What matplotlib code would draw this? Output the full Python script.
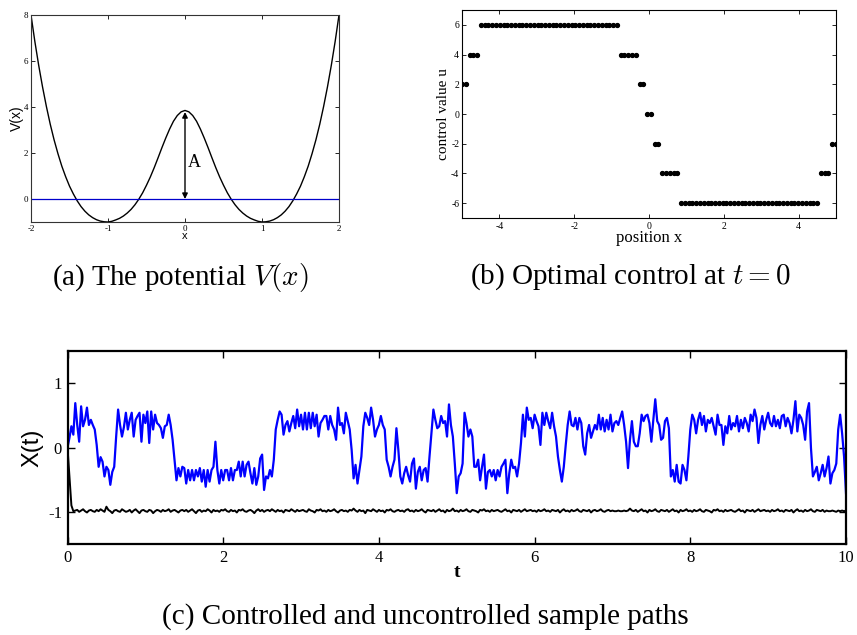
import numpy as np
import matplotlib
matplotlib.use('Agg')
import matplotlib.pyplot as plt

plt.rcParams['font.family'] = ['Liberation Serif', 'DejaVu Serif']
plt.rcParams['mathtext.fontset'] = 'cm'
plt.rcParams['axes.unicode_minus'] = False

# (a) potential V(x), every 0.05 in x
pot_x = np.linspace(-2, 2, 81)
pot_v = [8.00, 6.85, 5.81, 4.87, 4.02, 3.25, 2.57, 1.97, 1.43, 0.97,
         0.56, 0.22, -0.08, -0.33, -0.53, -0.69, -0.81, -0.90, -0.96, -0.99,
         -1.00, -0.97, -0.91, -0.84, -0.74, -0.61, -0.45, -0.25, -0.01, 0.27,
         0.60, 0.96, 1.36, 1.79, 2.23, 2.65, 3.04, 3.38, 3.63, 3.79,
         3.85,
         3.79, 3.63, 3.38, 3.04, 2.65, 2.23, 1.79, 1.36, 0.96, 0.60,
         0.27, -0.01, -0.25, -0.45, -0.61, -0.74, -0.84, -0.91, -0.97, -1.00,
         -0.99, -0.96, -0.90, -0.81, -0.69, -0.53, -0.33, -0.08, 0.22, 0.56,
         0.97, 1.43, 1.97, 2.57, 3.25, 4.02, 4.87, 5.81, 6.85, 8.00]
barrier_top = 3.78

# (b) optimal control on a 100 point grid
ctrl_x = np.linspace(-5, 5, 100)
ctrl_levels = [2, 4, 6, 4, 2, 0, -2, -4, -6, -4, -2]
ctrl_counts = [2, 3, 37, 5, 2, 2, 2, 5, 37, 3, 2]
ctrl_u = np.repeat(ctrl_levels, ctrl_counts)

# (c) sample paths, t = 0 ... 10 in steps of 0.025
path_t = np.linspace(0, 10, 401)
controlled = [
    0.00, 0.15, 0.33, 0.20, 0.69, 0.35, 0.09, 0.64, 0.33, 0.43, 0.62, 0.35, 0.43, 0.35, 0.28, 0.04, -0.30, -0.15, -0.22, -0.45,
    -0.30, -0.35, -0.58, -0.38, -0.30, 0.17, 0.59, 0.35, 0.17, 0.32, 0.54, 0.28, 0.43, 0.54, 0.17, 0.43, 0.49, 0.54, 0.09, 0.51,
    0.38, 0.56, 0.07, 0.56, 0.28, 0.51, 0.38, 0.35, 0.30, 0.15, 0.33, 0.35, 0.51, 0.35, 0.12, -0.19, -0.51, -0.32, -0.45, -0.30,
    -0.32, -0.56, -0.35, -0.51, -0.35, -0.51, -0.35, -0.45, -0.32, -0.53, -0.35, -0.61, -0.35, -0.53, -0.35, -0.30, 0.09, -0.35, -0.56, -0.35,
    -0.51, -0.35, -0.35, -0.51, -0.32, -0.51, -0.35, -0.35, -0.22, -0.45, -0.22, -0.45, -0.27, -0.22, -0.40, -0.56, -0.32, -0.58, -0.45, -0.17,
    -0.11, -0.66, -0.45, -0.48, -0.35, -0.45, -0.19, 0.28, 0.43, 0.56, 0.51, 0.20, 0.35, 0.41, 0.25, 0.38, 0.49, 0.30, 0.59, 0.33,
    0.51, 0.28, 0.54, 0.28, 0.54, 0.30, 0.54, 0.33, 0.51, 0.17, 0.38, 0.43, 0.49, 0.49, 0.28, 0.49, 0.35, 0.28, 0.12, 0.62,
    0.35, 0.38, 0.22, 0.54, 0.41, 0.28, -0.04, -0.48, -0.27, -0.56, -0.35, -0.14, 0.33, 0.54, 0.46, 0.35, 0.62, 0.43, 0.17, 0.28,
    0.35, 0.49, 0.35, 0.28, -0.19, -0.30, -0.45, -0.30, -0.19, 0.30, -0.04, -0.45, -0.56, -0.40, -0.30, -0.43, -0.53, -0.25, -0.17, -0.64,
    -0.38, -0.30, -0.51, -0.35, -0.32, -0.53, -0.14, 0.22, 0.59, 0.43, 0.30, 0.33, 0.49, 0.38, 0.41, 0.17, 0.67, 0.35, 0.17, -0.25,
    -0.71, -0.45, -0.40, -0.25, 0.54, 0.38, 0.17, 0.28, 0.17, -0.30, -0.30, -0.19, -0.51, -0.30, -0.11, -0.64, -0.38, -0.35, -0.45, -0.35,
    -0.51, -0.35, -0.45, -0.30, -0.25, -0.19, -0.71, -0.40, -0.19, -0.32, -0.30, -0.45, -0.25, 0.07, 0.51, 0.17, 0.62, 0.43, 0.46, 0.30,
    0.51, 0.41, 0.33, 0.04, 0.54, 0.35, 0.54, 0.41, 0.30, 0.54, 0.33, 0.17, -0.14, -0.35, -0.53, -0.30, 0.04, 0.35, 0.56, 0.35,
    0.33, 0.46, 0.28, 0.46, 0.38, 0.02, -0.11, 0.22, 0.35, 0.15, 0.25, 0.35, 0.28, 0.51, 0.28, 0.46, 0.25, 0.43, 0.28, 0.51,
    0.25, 0.38, 0.41, 0.35, 0.46, 0.56, 0.35, 0.09, -0.32, 0.12, 0.41, 0.09, 0.02, 0.02, 0.22, 0.51, 0.41, 0.49, 0.51, 0.38,
    0.09, 0.43, 0.75, 0.41, 0.35, 0.12, 0.15, 0.41, 0.46, 0.30, -0.45, -0.35, -0.53, -0.27, -0.53, -0.56, -0.27, -0.35, -0.51, -0.14,
    0.28, 0.51, 0.43, 0.22, 0.43, 0.54, 0.35, 0.49, 0.25, 0.43, 0.38, 0.46, 0.33, 0.20, 0.51, 0.35, 0.35, 0.04, 0.33, 0.22,
    0.49, 0.28, 0.38, 0.33, 0.49, 0.25, 0.43, 0.30, 0.46, 0.38, 0.25, 0.51, 0.41, 0.59, 0.46, 0.07, 0.35, 0.49, 0.28, 0.43,
    0.54, 0.38, 0.33, 0.49, 0.33, 0.43, 0.30, 0.49, 0.51, 0.33, 0.46, 0.38, 0.22, 0.43, 0.72, 0.25, 0.51, 0.46, 0.35, 0.12,
    0.56, 0.69, -0.01, -0.45, -0.38, -0.30, -0.51, -0.40, -0.27, -0.45, -0.32, -0.14, -0.56, -0.40, -0.35, -0.25, 0.28, 0.51, 0.22, -0.14,
    -0.71]
uncontrolled = [
    0.00, -0.45, -0.90, -0.99, -0.98, -0.97, -1.00, -0.98, -0.96, -0.99, -1.01, -0.98, -0.97, -0.99, -1.00, -0.97, -0.99, -0.96, -0.98, -1.00,
    -0.92, -0.97, -0.99, -1.02, -0.98, -0.97, -0.99, -1.00, -0.96, -0.98, -1.00, -0.99, -0.97, -1.01, -0.98, -0.96, -0.99, -1.02, -0.98, -0.97,
    -0.99, -1.00, -0.97, -0.98, -1.02, -0.99, -0.97, -0.98, -1.00, -0.97, -0.99, -0.98, -0.96, -1.00, -0.98, -0.97, -0.99, -1.01, -0.98, -0.97,
    -0.99, -0.97, -1.00, -0.98, -0.96, -0.99, -1.02, -0.98, -0.97, -1.00, -0.98, -0.99, -0.96, -0.98, -1.01, -0.97, -0.99, -0.98, -1.00, -0.97,
    -0.98, -0.96, -0.99, -1.00, -0.97, -0.99, -0.98, -1.01, -0.97, -0.98, -0.96, -0.99, -1.00, -0.98, -0.97, -0.99, -1.02, -0.98, -0.96, -0.99,
    -0.97, -1.00, -0.98, -0.97, -0.99, -0.96, -0.98, -1.00, -0.97, -0.99, -0.98, -1.01, -0.97, -0.98, -0.99, -0.96, -0.98, -1.00, -0.97, -0.99,
    -0.98, -0.97, -0.99, -1.00, -0.96, -0.98, -0.99, -1.01, -0.97, -0.98, -0.96, -0.99, -0.98, -1.00, -0.97, -0.99, -0.98, -0.96, -0.99, -1.01,
    -0.98, -0.97, -0.99, -0.98, -1.00, -0.97, -0.98, -0.95, -0.98, -1.00, -0.97, -0.99, -0.98, -1.02, -0.97, -0.98, -0.99, -0.96, -0.98, -1.00,
    -0.97, -0.99, -0.98, -1.01, -0.97, -0.98, -0.96, -0.99, -1.00, -0.98, -0.97, -0.99, -0.98, -1.00, -0.97, -0.96, -0.99, -0.98, -1.00, -0.97,
    -0.99, -0.98, -0.96, -0.99, -1.01, -0.97, -0.98, -0.99, -0.97, -1.00, -0.98, -0.96, -0.99, -0.98, -1.01, -0.97, -0.99, -0.98, -0.95, -0.99,
    -0.98, -1.00, -0.97, -0.99, -0.98, -0.96, -0.99, -1.00, -0.97, -0.98, -0.99, -1.01, -0.97, -0.98, -0.96, -0.99, -0.98, -1.00, -0.97, -0.99,
    -0.98, -0.97, -0.99, -1.00, -0.98, -0.96, -0.99, -0.98, -1.01, -0.97, -0.98, -0.99, -0.97, -1.00, -0.98, -0.96, -0.99, -0.98, -0.97, -0.99,
    -0.98, -1.00, -0.97, -0.99, -0.98, -0.96, -0.99, -0.98, -1.00, -0.97, -0.98, -0.99, -0.97, -1.01, -0.98, -0.96, -0.99, -0.98, -1.00, -0.97,
    -0.99, -0.98, -0.96, -0.99, -1.00, -0.97, -0.98, -0.99, -0.97, -1.01, -0.98, -0.97, -0.99, -0.98, -0.96, -0.99, -1.00, -0.98, -0.97, -0.99,
    -0.98, -0.99, -0.99, -0.98, -0.99, -0.99, -0.98, -0.99, -0.98, -0.95, -0.98, -0.99, -0.97, -1.00, -0.98, -0.96, -0.99, -0.98, -1.01, -0.97,
    -0.99, -0.98, -0.96, -0.99, -1.00, -0.97, -0.98, -0.99, -0.97, -1.00, -0.98, -0.96, -0.99, -0.98, -1.01, -0.97, -0.99, -0.98, -0.96, -0.99,
    -0.98, -1.00, -0.97, -0.99, -0.98, -0.96, -0.99, -1.00, -0.97, -0.98, -0.99, -1.01, -0.97, -0.98, -0.96, -0.99, -0.98, -1.00, -0.97, -0.99,
    -0.98, -0.97, -0.99, -1.00, -0.98, -0.96, -0.99, -0.98, -1.01, -0.97, -0.98, -0.99, -0.97, -1.00, -0.98, -0.96, -0.99, -0.98, -0.97, -0.99,
    -0.98, -1.00, -0.97, -0.99, -0.98, -0.96, -0.99, -0.98, -1.00, -0.97, -0.98, -0.99, -0.97, -1.01, -0.98, -0.96, -0.99, -0.98, -1.00, -0.97,
    -0.99, -0.98, -0.96, -0.99, -1.00, -0.97, -0.98, -0.99, -0.97, -1.00, -0.98, -0.99, -0.99, -0.98, -0.99, -1.00, -0.98, -0.99, -0.98, -0.99,
    -0.98]

fig = plt.figure(figsize=(8.57, 6.35), dpi=100)
W, H = 857.0, 635.0

def box(l, t, r, b):
    return [l / W, 1 - b / H, (r - l) / W, (b - t) / H]

# ---- (a) the potential
ax1 = fig.add_axes(box(31, 15, 339, 222))
ax1.plot(pot_x, pot_v, color='black', lw=1.0)
ax1.axhline(0, color='#0000cc', lw=0.9)
ax1.annotate('', xy=(0, barrier_top), xytext=(0, 0),
             arrowprops=dict(arrowstyle='<|-|>', color='black', lw=1.0,
                             mutation_scale=8, shrinkA=0, shrinkB=0))
ax1.text(0.04, 1.57, 'A', fontsize=13, ha='left', va='center')
ax1.set_xlim(-2, 2)
ax1.set_ylim(-1, 8)
ax1.set_xticks([-2, -1, 0, 1, 2])
ax1.set_yticks([0, 2, 4, 6, 8])
ax1.tick_params(direction='in', top=True, right=True, labelsize=6.5, length=3, width=0.6, pad=2)
ax1.set_xlabel('x', fontsize=8, family='Liberation Sans', labelpad=-1)
ax1.set_ylabel('V(x)', fontsize=10, family='Liberation Sans', labelpad=0)
for s in ax1.spines.values():
    s.set_linewidth(0.8)
    s.set_color('#333333')

# ---- (b) optimal control
ax2 = fig.add_axes(box(462, 10, 836, 218))
ax2.plot(ctrl_x, ctrl_u, 'o', color='black', ms=2.8)
ax2.set_xlim(-5, 5)
ax2.set_ylim(-7, 7)
ax2.set_xticks([-4, -2, 0, 2, 4])
ax2.set_yticks([-6, -4, -2, 0, 2, 4, 6])
ax2.tick_params(direction='in', top=True, right=True, labelsize=7, length=3, width=0.6, pad=2)
ax2.tick_params(axis='x', pad=3)
ax2.set_xlabel('position x', fontsize=12, labelpad=-1)
ax2.set_ylabel('control value u', fontsize=11, labelpad=1)
for s in ax2.spines.values():
    s.set_linewidth(0.8)

# ---- (c) sample paths
ax3 = fig.add_axes(box(67.5, 351, 846, 544))
ax3.plot(path_t, uncontrolled, color='black', lw=1.4)
ax3.plot(path_t, controlled, color='#0000ff', lw=1.6)
ax3.set_xlim(0, 10)
ax3.set_ylim(-1.5, 1.5)
ax3.set_xticks([0, 2, 4, 6, 8, 10])
ax3.set_yticks([-1, 0, 1])
ax3.tick_params(direction='in', top=True, right=True, labelsize=12, length=5, width=1.0, pad=4)
ax3.set_xlabel('t', fontsize=14, fontweight='bold', labelpad=-1)
ax3.set_ylabel('X(t)', fontsize=17, family='Liberation Sans', labelpad=3)
for s in ax3.spines.values():
    s.set_linewidth(1.6)

# captions
fig.text(180 / W, 1 - 277 / H, r'(a) The potential $V(x)$', fontsize=21, ha='center', va='center')
fig.text(630 / W, 1 - 277 / H, r'(b) Optimal control at $t = 0$', fontsize=21, ha='center', va='center')
fig.text(425 / W, 1 - 617 / H, '(c) Controlled and uncontrolled sample paths', fontsize=21, ha='center', va='center')

fig.savefig('out.png', dpi=100)
